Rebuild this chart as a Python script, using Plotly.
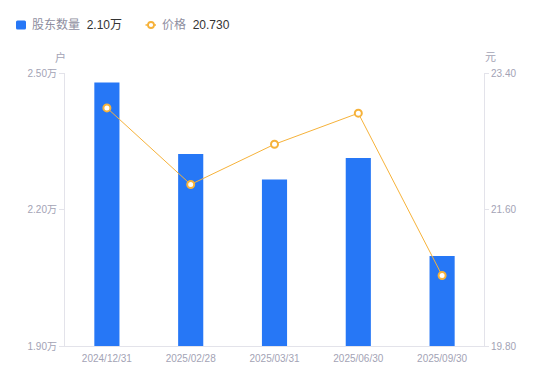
import plotly.graph_objects as go

dates = ["2024/12/31", "2025/02/28", "2025/03/31", "2025/06/30", "2025/09/30"]
holders_wan = [2.479, 2.322, 2.266, 2.313, 2.098]
prices = [22.94, 21.93, 22.46, 22.87, 20.73]
left_ticks = [1.90, 2.20, 2.50]
right_ticks = [19.80, 21.60, 23.40]
legend_holder_label = "股东数量"
legend_holder_value = "2.10万"
legend_price_label = "价格"
legend_price_value = "20.730"

# page body has an 8px margin; work in screen coordinates and shift
OFF = 8
W, H = 550 - OFF, 381 - OFF
SX0, SX1, SY0, SY1 = 65, 484, 73, 346  # plot area on screen
L, T = SX0 - OFF, SY0 - OFF
R, B = W - (SX1 - OFF), H - (SY1 - OFF)
PW, PH = SX1 - SX0, SY1 - SY0

def px(x):
    return (x - SX0) / PW

def py(y):
    return (SY1 - y) / PH

BLUE = "#2677F6"
ORANGE = "#F6B23A"
GRAY = "#A3A3B5"
AXIS = "#E3E3EA"
FONT = "Liberation Sans, Arial, Noto Sans CJK SC, sans-serif"

fig = go.Figure()
fig.add_trace(go.Bar(x=dates, y=holders_wan, marker=dict(color=BLUE, line=dict(width=0)),
                     width=0.3, name=legend_holder_label, yaxis="y"))
fig.add_trace(go.Scatter(x=dates, y=prices, mode="lines+markers", name=legend_price_label,
                         line=dict(color=ORANGE, width=1),
                         marker=dict(size=7, color="white", line=dict(color=ORANGE, width=2)),
                         yaxis="y2"))

fig.update_layout(
    width=W, height=H,
    margin=dict(l=L, r=R, t=T, b=B, pad=0),
    paper_bgcolor="white", plot_bgcolor="white",
    showlegend=False,
    font=dict(family=FONT, size=10, color=GRAY),
    xaxis=dict(type="category", showgrid=False, showline=True, linecolor=AXIS, linewidth=1,
               ticks="", tickfont=dict(size=10, color=GRAY), zeroline=False,
               ticklabelstandoff=3),
    yaxis=dict(range=[left_ticks[0], left_ticks[-1]], tickvals=left_ticks,
               ticktext=[f"{v:.2f}万" for v in left_ticks], showgrid=False,
               showline=True, linecolor=AXIS, linewidth=1, ticks="outside", ticklen=5,
               tickcolor=AXIS, tickfont=dict(size=10, color=GRAY), zeroline=False),
    yaxis2=dict(range=[right_ticks[0], right_ticks[-1]], tickvals=right_ticks,
                ticktext=[f"{v:.2f}" for v in right_ticks], overlaying="y", side="right",
                showgrid=False, showline=True, linecolor=AXIS, linewidth=1, ticks="outside",
                ticklen=4, tickcolor=AXIS, tickfont=dict(size=10, color=GRAY), zeroline=False),
    bargap=0.7,
)

# axis unit titles
fig.add_annotation(text="户", x=px(60), y=py(57), xref="paper", yref="paper",
                   showarrow=False, font=dict(size=11, color=GRAY), xanchor="center", yanchor="middle")
fig.add_annotation(text="元", x=px(490), y=py(57), xref="paper", yref="paper",
                   showarrow=False, font=dict(size=11, color=GRAY), xanchor="center", yanchor="middle")

# custom legend
fig.add_shape(type="path", xref="paper", yref="paper",
              path=f"M {px(17.5)},{py(20.5)} L {px(24.5)},{py(20.5)} Q {px(26)},{py(20.5)} {px(26)},{py(22)} "
                   f"L {px(26)},{py(28)} Q {px(26)},{py(29.5)} {px(24.5)},{py(29.5)} L {px(17.5)},{py(29.5)} "
                   f"Q {px(16)},{py(29.5)} {px(16)},{py(28)} L {px(16)},{py(22)} Q {px(16)},{py(20.5)} {px(17.5)},{py(20.5)} Z",
              fillcolor=BLUE, line=dict(width=0))
fig.add_annotation(text=f"<span style='color:#8E8EA0'>{legend_holder_label}</span>  "
                        f"<span style='color:#333333'>{legend_holder_value}</span>",
                   x=px(30), y=py(25), xref="paper", yref="paper", showarrow=False,
                   xanchor="left", yanchor="middle", font=dict(size=12))
fig.add_shape(type="line", xref="paper", yref="paper", x0=px(145.5), x1=px(156), y0=py(25), y1=py(25),
              line=dict(color=ORANGE, width=1.5))
fig.add_shape(type="circle", xref="paper", yref="paper", x0=px(148), x1=px(154), y0=py(22), y1=py(28),
              fillcolor="white", line=dict(color=ORANGE, width=1.8))
fig.add_annotation(text=f"<span style='color:#8E8EA0'>{legend_price_label}</span>  "
                        f"<span style='color:#333333'>{legend_price_value}</span>",
                   x=px(160), y=py(25), xref="paper", yref="paper", showarrow=False,
                   xanchor="left", yanchor="middle", font=dict(size=12))

fig.write_html("out.html")
